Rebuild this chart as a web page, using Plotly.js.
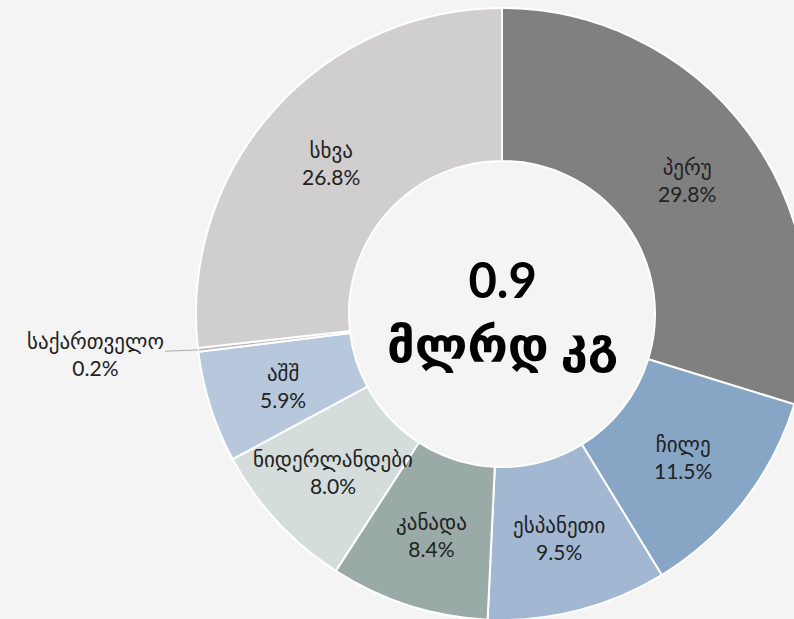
<!DOCTYPE html>
<html>
<head>
<meta charset="utf-8">
<script src="https://cdn.plot.ly/plotly-3.0.1.min.js"></script>
<style>
html,body{margin:0;padding:0;width:794px;height:619px;overflow:hidden;background:#f4f4f4;}
#chart{width:1004px;height:628px;}
</style>
</head>
<body>
<div id="chart"></div>
<script>
const countries = ["პერუ","ჩილე","ესპანეთი","კანადა","ნიდერლანდები","აშშ","საქართველო","სხვა"];
const shares = [29.8, 11.5, 9.5, 8.4, 8.0, 5.9, 0.2, 26.8];
const colors = ["#808080","#87a5c5","#a2b8d2","#9aaaa7","#d4dddc","#b7c8dc","#b5b5b5","#d0cece"];
const centerText = "0.9<br>მლრდ კგ";

const W = 1004, H = 628;
const cx = 502, cy = 314, rOut = 306, hole = 0.5;
const rMid = rOut * (1 + hole) / 2;
const fontFam = "Lato, DejaVu Sans, sans-serif";

const total = shares.reduce((a, b) => a + b, 0);
const annotations = [];
let cum = 0;
shares.forEach((v, i) => {
  const mid = (cum + v / 2) / total;
  cum += v;
  const th = mid * 2 * Math.PI;
  const label = countries[i] + "<br>" + v.toFixed(1) + "%";
  if (v < 1) {
    const pxEdge = cx + rOut * Math.sin(th);
    const pyEdge = cy - rOut * Math.cos(th);
    annotations.push({
      x: pxEdge / W, y: 1 - pyEdge / H, xref: "paper", yref: "paper",
      text: label, showarrow: true, arrowhead: 0, arrowwidth: 1, arrowcolor: "#aaaaaa",
      ax: -103, ay: 4, font: {family: fontFam, size: 21, color: "#222"}
    });
  } else {
    const px = cx + rMid * Math.sin(th);
    const py = cy - rMid * Math.cos(th);
    annotations.push({
      x: px / W, y: 1 - py / H, xref: "paper", yref: "paper",
      text: label, showarrow: false, xanchor: "center", yanchor: "middle",
      yshift: -2,
      font: {family: fontFam, size: 21, color: "#222"}
    });
  }
});
annotations.push({
  x: cx / W, y: 1 - cy / H, xref: "paper", yref: "paper", showarrow: false,
  text: "<b>" + centerText + "</b>", xanchor: "center", yanchor: "middle",
  yshift: 3,
  font: {family: fontFam, size: 49, color: "#000"}
});

const data = [{
  type: "pie",
  labels: countries,
  values: shares,
  hole: hole,
  sort: false,
  direction: "clockwise",
  rotation: 0,
  textinfo: "none",
  marker: {colors: colors, line: {color: "#ffffff", width: 2}},
  domain: {x: [0, 1], y: [8 / H, 620 / H]},
  showlegend: false,
  hoverinfo: "label+percent"
}];

const layout = {
  width: W, height: H,
  margin: {l: 0, r: 0, t: 0, b: 0},
  paper_bgcolor: "#f4f4f4",
  plot_bgcolor: "#f4f4f4",
  showlegend: false,
  annotations: annotations
};

Plotly.newPlot("chart", data, layout, {displayModeBar: false, staticPlot: true});
</script>
</body>
</html>
